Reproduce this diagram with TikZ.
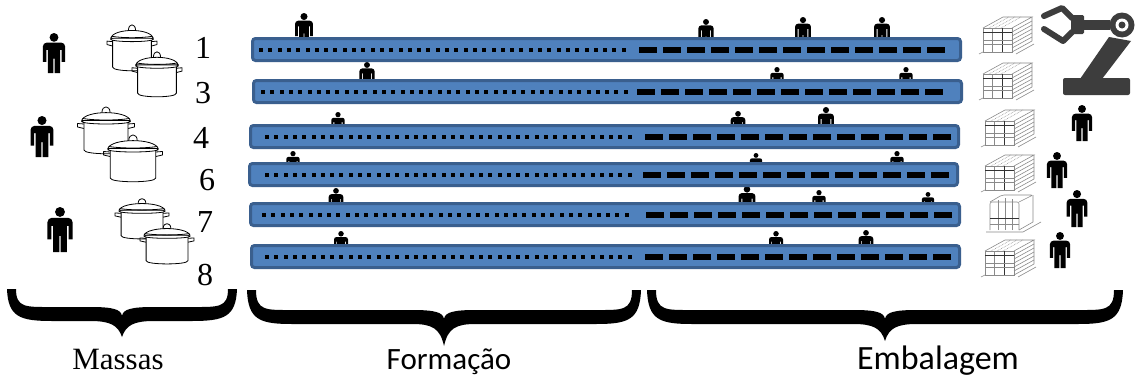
\documentclass[tikz,border=0pt]{standalone}
\usepackage{fontspec}
\newfontfamily\serifface{Liberation Serif}
\newfontfamily\labelface{Carlito}
\definecolor{beltblue}{HTML}{4F81BD}
\definecolor{beltedge}{HTML}{3A5F8E}
\definecolor{robotgray}{HTML}{3D3D3D}
\definecolor{crategray}{HTML}{8A8A8A}
\tikzset{
  beltbox/.style={fill=beltblue, draw=beltedge, line width=3pt, rounded corners=3pt},
  potline/.style={line width=0.8pt, line join=round, line cap=round},
  crateline/.style={draw=crategray, line width=0.6pt},
  cratebold/.style={draw=black!80, line width=1pt},
  figurefill/.style={fill=black},
  robotfill/.style={fill=robotgray},
  bracefill/.style={fill=black},
  numlabel/.style={font=\serifface\fontsize{32}{36}\selectfont, inner sep=0pt, anchor=base},
  seriflabel/.style={font=\serifface\fontsize{31}{35}\selectfont, inner sep=0pt, anchor=base},
  sanslabel/.style={font=\labelface\fontsize{31}{35}\selectfont, inner sep=0pt, anchor=base},
}
% conveyor belt: left, top, right, first dot, first dash
\newcommand\belt[5]{%
  \draw[beltbox] (#1+1.5,#2+1.5) rectangle (#3-1.5,#2+23.5);
  \foreach \k in {0,...,39} \fill ({#4+9.3*\k},#2+10.5) rectangle ++(4,4);
  \foreach \k in {0,...,12} \fill ({#5+24*\k},#2+9.5) rectangle ++(18,6);
}
% standing worker pictogram: centre x, top y, height
\newcommand\worker[3]{%
  \begin{scope}[shift={(#1,#2)}, x=#3pt, y=-#3pt]
    \fill[figurefill] (0,0.11) circle (0.11);
    \fill[figurefill] (-0.19,0.72) -- (-0.28,0.72)
      [rounded corners={0.1*#3pt}] -- (-0.28,0.24) -- (0.28,0.24) [sharp corners] -- (0.28,0.72)
      -- (0.19,0.72) -- (0.19,0.42) -- (0.155,0.42) -- (0.155,1.0) -- (0.015,1.0) -- (0.015,0.64)
      -- (-0.015,0.64) -- (-0.015,1.0) -- (-0.155,1.0) -- (-0.155,0.42) -- (-0.19,0.42) -- cycle;
  \end{scope}}
% cooking pot outline: centre x, top y, width, height
\newcommand\pot[4]{%
  \begin{scope}[shift={(#1,#2)}, x=#3pt, y=-#4pt, potline]
    \draw (-0.38,0.38) -- (-0.49,0.37) -- (-0.49,0.44) -- (-0.38,0.47);
    \draw (0.38,0.38) -- (0.49,0.37) -- (0.49,0.44) -- (0.38,0.47);
    \filldraw[fill=white] (-0.38,0.33) -- (-0.38,0.9) .. controls (-0.38,1.0) and (0.38,1.0) .. (0.38,0.9) -- (0.38,0.33);
    \filldraw[fill=white] (0,0.33) ellipse (0.42 and 0.05);
    \filldraw[fill=white] (-0.42,0.31) .. controls (-0.36,0.1) and (0.36,0.1) .. (0.42,0.31) -- cycle;
    \draw (-0.4,0.27) .. controls (-0.2,0.31) and (0.2,0.31) .. (0.4,0.27);
    \draw (-0.07,0.15) .. controls (-0.07,0.0) and (0.07,0.0) .. (0.07,0.15);
  \end{scope}}
% wire-frame box stack: front-left-bottom corner
\newcommand\crate[2]{%
  \begin{scope}[shift={(#1,#2)}]
    \draw[crateline] (0,0) rectangle (29,-24);
    \draw[crateline] (0,-24) -- (20,-35) -- (49,-35) -- (29,-24);
    \draw[crateline] (29,0) -- (49,-11) -- (49,-35);
    \draw[crateline] (9,0) -- (9,-24);
    \draw[cratebold] (19,0) -- (19,-24);
    \draw[cratebold] (0,-20) -- (29,-20);
    \draw[crateline] (0,-12) -- (29,-12) (0,-8) -- (29,-8);
    \foreach \t in {4,8,12,16,20} \draw[crateline] (29,-\t) -- (49,-\t-11);
    \foreach \t in {6,12,18} \draw[crateline, densely dotted] (\t,-24) -- (\t+20,-35);
    \draw[crateline] (-4,2) -- (0,0);
    \draw[crateline] (33,2) -- (51,-8);
  \end{scope}}
% wrapped box on a pallet: front-left-bottom corner
\newcommand\pallet[2]{%
  \begin{scope}[shift={(#1,#2)}]
    \draw[crateline] (-4,0) -- (33,0) -- (51,-10);
    \draw[crateline, rounded corners=2pt] (0,-2) -- (0,-30) -- (29,-30) -- (29,-2);
    \draw[crateline, rounded corners=2pt] (0,-30) -- (12,-37) -- (43,-37) -- (29,-30);
    \draw[crateline] (29,-2) -- (43,-10) -- (43,-37);
    \draw[crateline] (8,-2) -- (8,-32) (15,-2) -- (15,-34) (22,-2) -- (22,-33);
    \draw[cratebold] (0,-14) -- (29,-14);
    \draw[crateline] (0,-8) -- (29,-8);
  \end{scope}}
% curly brace pointing down: left x, right x, top y, band y, tip y
\newcommand\curly[5]{%
  \pgfmathsetmacro\bc{(#1+#2)/2}
  \fill[bracefill] (#1-5,#3) .. controls (#1-4,#4+4) and (#1+8,#4+8) .. (#1+40,#4+8)
    -- (\bc-32,#4+8) .. controls (\bc-12,#4+8) and (\bc-4,#4+12) .. (\bc,#5)
    .. controls (\bc+4,#4+12) and (\bc+12,#4+8) .. (\bc+32,#4+8)
    -- (#2-40,#4+8) .. controls (#2-8,#4+8) and (#2+4,#4+4) .. (#2+5,#3)
    -- (#2-4,#3) .. controls (#2-4,#4-5) and (#2-14,#4-6) .. (#2-40,#4-6)
    -- (\bc+32,#4-6) .. controls (\bc+10,#4-6) and (\bc+1,#4-4) .. (\bc,#4+3)
    .. controls (\bc-1,#4-4) and (\bc-10,#4-6) .. (\bc-32,#4-6)
    -- (#1+40,#4-6) .. controls (#1+14,#4-6) and (#1+4,#4-5) .. (#1+4,#3) -- cycle;
}
\begin{document}
\begin{tikzpicture}[x=1pt, y=-1pt]
  \fill[white] (0,0) rectangle (1136,380);
  \useasboundingbox (0,0) rectangle (1136,380);

  % dough station: workers and pots
  \worker{54}{33}{40}
  \worker{42}{116}{41}
  \worker{60}{207}{45}
  \pot{132}{23}{51}{49}
  \pot{157}{50}{51}{48}
  \pot{106}{105}{58}{50}
  \pot{133}{133}{60}{50}
  \pot{142}{197}{55}{43}
  \pot{167}{222}{55}{43}

  % line numbers
  \node[numlabel] (n1) at (203,58) {1};
  \node[numlabel] (n3) at (203,103) {3};
  \node[numlabel] (n4) at (201,148) {4};
  \node[numlabel] (n6) at (207,190) {6};
  \node[numlabel] (n7) at (205,232) {7};
  \node[numlabel] (n8) at (205,285) {8};

  % operators standing behind the belts
  \worker{304}{13}{32}
  \worker{706}{19}{27}
  \worker{803}{17}{28}
  \worker{882}{17}{28}
  \worker{367}{62}{27}
  \worker{777}{67}{24}
  \worker{906}{67}{24}
  \worker{338}{112}{24}
  \worker{738}{111}{26}
  \worker{826}{107}{28}
  \worker{293}{151}{24}
  \worker{756}{153}{22}
  \worker{897}{151}{24}
  \worker{336}{188}{26}
  \worker{747}{186}{30}
  \worker{819}{190}{24}
  \worker{928}{192}{22}
  \worker{341}{231}{25}
  \worker{776}{231}{25}
  \worker{866}{230}{26}

  % conveyor belts
  \belt{251}{37}{962}{259}{639}
  \belt{252}{79}{963}{261}{637}
  \belt{249}{124}{960}{265}{645}
  \belt{248}{162}{959}{265}{643}
  \belt{249}{202}{961}{262}{646}
  \belt{250}{244}{961}{265}{645}

  % packing: boxes and pallets
  \crate{983}{52}
  \crate{983}{98}
  \crate{985}{145}
  \crate{985}{190}
  \pallet{990}{232}
  \crate{985}{275}

  % packing operators
  \worker{1082}{105}{36}
  \worker{1057}{152}{36}
  \worker{1077}{190}{37}
  \worker{1060}{232}{36}

  % packing robot
  \fill[robotfill, rounded corners=2pt] (1063,78) rectangle (1130,95);
  \fill[robotfill] (1080,79) -- (1109,37) -- (1131,41) -- (1102,79) -- cycle;
  \fill[robotfill] (1122,25) circle (12.5);
  \fill[white] (1122,25) circle (6.5);
  \fill[robotfill] (1122,25) circle (3.5);
  \fill[robotfill] (1082,20) rectangle (1110,30);
  \fill[robotfill, rounded corners=1.5pt] (1071,15) rectangle (1084,34);
  \draw[robotgray, line width=6pt, line cap=round, line join=round] (1044,16) -- (1062,8) -- (1072,18);
  \draw[robotgray, line width=6pt, line cap=round, line join=round] (1044,29) -- (1063,41) -- (1072,32);

  % section braces and captions
  \curly{12}{232}{289}{313}{337}
  \curly{252}{636}{290}{316}{346}
  \curly{652}{1118}{290}{316}{341}
  \node[seriflabel] (massas) at (118,369) {Massas};
  \node[sanslabel] (formacao) at (449,369) {Formação};
  \node[sanslabel, font=\labelface\fontsize{34}{38}\selectfont] (embalagem) at (938,369) {Embalagem};
\end{tikzpicture}
\end{document}
